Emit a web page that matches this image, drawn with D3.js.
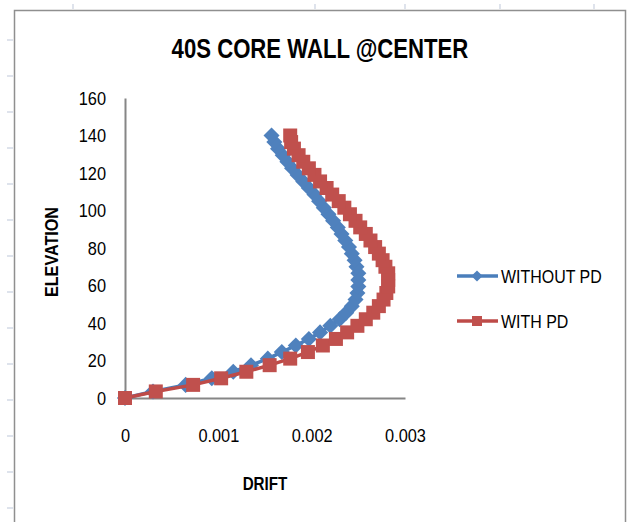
<!DOCTYPE html>
<html>
<head>
<meta charset="utf-8">
<script src="https://cdn.jsdelivr.net/npm/d3@7"></script>
<style>
  body { margin: 0; background: #ffffff; }
  svg text { font-family: "Liberation Sans", Arial, sans-serif; }
</style>
</head>
<body>
<svg id="chart" width="629" height="522"></svg>
<script>
// Storey elevations (m) and inter-storey drift for the core wall
const elevation = [0, 3.5, 7, 10.5, 14, 17.5, 21, 24.5, 28, 31.5, 35, 38.5, 42, 45.5, 49, 52.5,
  56, 59.5, 63, 66.5, 70, 73.5, 77, 80.5, 84, 87.5, 91, 94.5, 98, 101.5, 105, 108.5,
  112, 115.5, 119, 122.5, 126, 129.5, 133, 136.5, 140];

const driftWithoutPD = [0, 0.00030, 0.00065, 0.00093, 0.00116, 0.00135, 0.00153, 0.00168,
  0.00183, 0.00197, 0.00209, 0.00220, 0.00230, 0.00237, 0.00243, 0.00247, 0.00249, 0.00250,
  0.00250, 0.00250, 0.00248, 0.00246, 0.00243, 0.00240, 0.00236, 0.00232, 0.00228, 0.00223,
  0.00218, 0.00213, 0.00208, 0.00203, 0.00197, 0.00191, 0.00185, 0.00179, 0.00174, 0.00169,
  0.00164, 0.00160, 0.00157];

const driftWithPD = [0, 0.00033, 0.00073, 0.00103, 0.00130, 0.00155, 0.00177, 0.00196,
  0.00212, 0.00226, 0.00238, 0.00249, 0.00258, 0.00266, 0.00272, 0.00277, 0.00280, 0.00282,
  0.00282, 0.00282, 0.00279, 0.00276, 0.00272, 0.00268, 0.00263, 0.00258, 0.00252, 0.00247,
  0.00241, 0.00235, 0.00229, 0.00222, 0.00216, 0.00209, 0.00203, 0.00197, 0.00191, 0.00186,
  0.00181, 0.00178, 0.00177];

const seriesNames = ["WITHOUT PD", "WITH PD"];
const xTicks = [0, 0.001, 0.002, 0.003];
const xTickLabels = ["0", "0.001", "0.002", "0.003"];
const yTicks = [0, 20, 40, 60, 80, 100, 120, 140, 160];

const svg = d3.select("#chart");

// Squeeze text horizontally to get a narrow, Calibri-like face
function condense(sel, factor) {
  sel.each(function () {
    const len = this.getComputedTextLength();
    d3.select(this).attr("textLength", len * factor).attr("lengthAdjust", "spacingAndGlyphs");
  });
}

// Worksheet cell markers around the embedded chart
const stubColor = "#c9d1e0";
const leftStubs = [40, 76, 112, 148, 184, 220, 256, 292, 328, 364, 400, 436, 472, 508];
const topStubs = [73, 315, 405, 500, 594];
svg.selectAll("line.lstub").data(leftStubs).join("line")
  .attr("x1", 7).attr("x2", 13).attr("y1", d => d).attr("y2", d => d)
  .attr("stroke", stubColor).attr("stroke-width", 1.2);
svg.selectAll("line.tstub").data(topStubs).join("line")
  .attr("x1", d => d).attr("x2", d => d).attr("y1", 4).attr("y2", 9)
  .attr("stroke", stubColor).attr("stroke-width", 1.2);

// Chart area frame
svg.append("path")
  .attr("d", "M14.5,522 V10.5 H625.5 V522")
  .attr("fill", "#ffffff").attr("stroke", "#8f8f8f").attr("stroke-width", 1.5);

// Title
svg.append("text")
  .attr("x", 320).attr("y", 58)
  .attr("text-anchor", "middle")
  .attr("font-size", 27).attr("font-weight", "bold").attr("fill", "#000")
  .text("40S CORE WALL @CENTER")
  .call(condense, 0.82);

// Scales
const x = d3.scaleLinear().domain([0, 0.003]).range([125, 405]);
const y = d3.scaleLinear().domain([0, 160]).range([398, 98]);

const axisColor = "#868686";

const yAxis = svg.append("g")
  .attr("transform", `translate(${x(0)},0)`)
  .call(d3.axisLeft(y).tickValues(yTicks).tickSize(0).tickPadding(19).tickFormat(d3.format("d")));
const xAxis = svg.append("g")
  .attr("transform", `translate(0,${y(0)})`)
  .call(d3.axisBottom(x).tickValues(xTicks).tickSize(0).tickPadding(31)
    .tickFormat((d, i) => xTickLabels[i]));

[xAxis, yAxis].forEach(g => {
  g.select(".domain").attr("stroke", axisColor).attr("stroke-width", 2);
  g.selectAll("text").attr("font-family", null).attr("font-size", 19).attr("fill", "#000")
    .call(condense, 0.86);
});

// Axis titles
svg.append("text")
  .attr("transform", "translate(58,252) rotate(-90)")
  .attr("text-anchor", "middle")
  .attr("font-size", 19).attr("font-weight", "bold").attr("fill", "#000")
  .text("ELEVATION")
  .call(condense, 0.85);
svg.append("text")
  .attr("x", 265).attr("y", 490)
  .attr("text-anchor", "middle")
  .attr("font-size", 19).attr("font-weight", "bold").attr("fill", "#000")
  .text("DRIFT")
  .call(condense, 0.8);

// Series
const series = [
  { name: seriesNames[0], values: driftWithoutPD, line: "#4a7ebb", fill: "#4f81bd", symbol: d3.symbolDiamond2, size: 165 },
  { name: seriesNames[1], values: driftWithPD, line: "#be4b48", fill: "#c0504d", symbol: d3.symbolSquare, size: 196 }
];

const lineGen = d3.line()
  .x(d => x(d.drift))
  .y(d => y(d.elev));

series.forEach(s => {
  const pts = elevation.map((e, i) => ({ elev: e, drift: s.values[i] }));
  const g = svg.append("g");
  g.append("path")
    .datum(pts)
    .attr("d", lineGen)
    .attr("fill", "none")
    .attr("stroke", s.line)
    .attr("stroke-width", 3.5)
    .attr("stroke-linejoin", "round");
  g.selectAll("path.marker").data(pts).join("path")
    .attr("class", "marker")
    .attr("transform", d => `translate(${x(d.drift)},${y(d.elev)})`)
    .attr("d", d3.symbol(s.symbol, s.size))
    .attr("fill", s.fill)
    .attr("stroke", "none");
});

// Legend
const legend = svg.append("g");
const legendRows = [
  { s: series[0], y: 276, size: 80 },
  { s: series[1], y: 321, size: 100 }
];
legendRows.forEach(r => {
  legend.append("line")
    .attr("x1", 457).attr("x2", 498).attr("y1", r.y).attr("y2", r.y)
    .attr("stroke", r.s.line).attr("stroke-width", 3.5);
  legend.append("path")
    .attr("transform", `translate(477,${r.y})`)
    .attr("d", d3.symbol(r.s.symbol, r.size))
    .attr("fill", r.s.fill);
  legend.append("text")
    .attr("x", 501).attr("y", r.y + 7)
    .attr("font-size", 19).attr("fill", "#000")
    .text(r.s.name)
    .call(condense, 0.84);
});
</script>
</body>
</html>
